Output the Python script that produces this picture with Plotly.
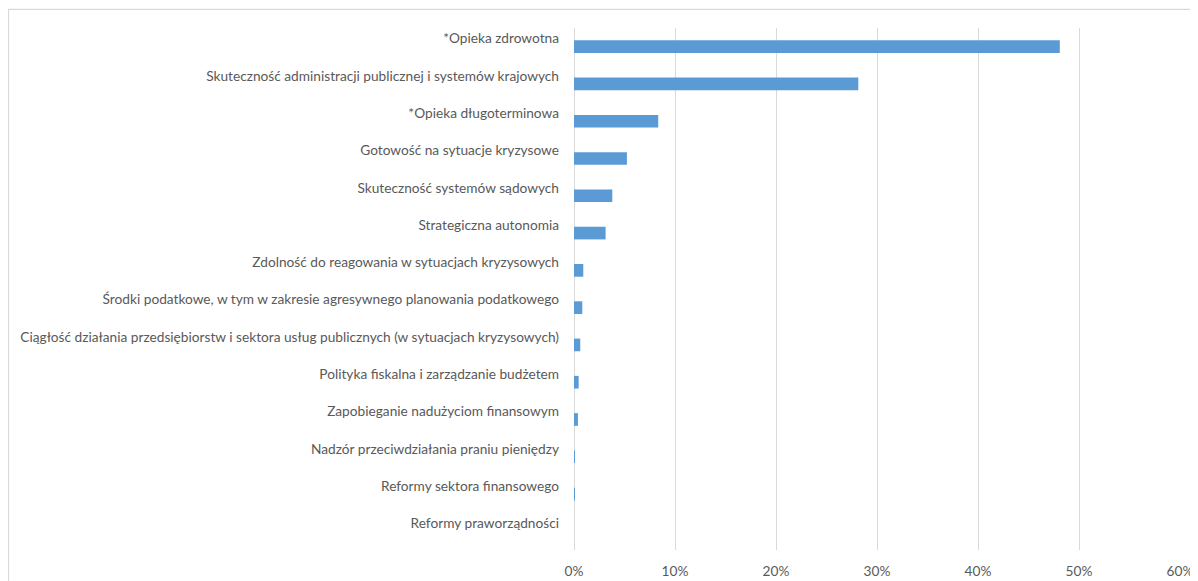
import plotly.graph_objects as go

categories = [
    "*Opieka zdrowotna",
    "Skuteczność administracji publicznej i systemów krajowych",
    "*Opieka długoterminowa",
    "Gotowość na sytuacje kryzysowe",
    "Skuteczność systemów sądowych",
    "Strategiczna autonomia",
    "Zdolność do reagowania w sytuacjach kryzysowych",
    "Środki podatkowe, w tym w zakresie agresywnego planowania podatkowego",
    "Ciągłość działania przedsiębiorstw i sektora usług publicznych (w sytuacjach kryzysowych)",
    "Polityka fiskalna i zarządzanie budżetem",
    "Zapobieganie nadużyciom finansowym",
    "Nadzór przeciwdziałania praniu pieniędzy",
    "Reformy sektora finansowego",
    "Reformy praworządności",
]
values = [0.481, 0.2815, 0.0834, 0.0524, 0.0379, 0.0313, 0.0092, 0.0082,
          0.0062, 0.0046, 0.0039, 0.0003, 0.0003, 0.0]
x_ticks = [0, 0.1, 0.2, 0.3, 0.4, 0.5, 0.6]
x_ticktext = ["0%", "10%", "20%", "30%", "40%", "50%", "60%"]

FONT = "Lato, 'Open Sans', sans-serif"
FS = 13.7
GRAY_TEXT = "#595959"
GRID = "#d9d9d9"

fig = go.Figure(go.Bar(
    x=values,
    y=categories,
    orientation="h",
    width=0.34,
    marker=dict(color="#5b9bd5", line=dict(width=0)),
    hoverinfo="x+y",
))

# page body has an 8px margin; figure placed at (8,8)
W, H = 1190, 573
ml, mr, mt, mb = 566, 18, 20, 31
PW, PH = W - ml - mr, H - mt - mb

fig.update_layout(
    width=W, height=H,
    margin=dict(l=ml, r=mr, t=mt, b=mb, pad=0, autoexpand=False),
    paper_bgcolor="white",
    plot_bgcolor="white",
    showlegend=False,
    font=dict(family=FONT, size=FS, color=GRAY_TEXT),
)

fig.update_xaxes(
    automargin=False,
    range=[0, 0.6],
    tickvals=x_ticks,
    ticktext=x_ticktext,
    showgrid=True,
    gridcolor=GRID,
    gridwidth=1.3,
    zeroline=True,
    zerolinecolor=GRID,
    zerolinewidth=1.3,
    showline=False,
    ticks="",
    ticklabelstandoff=11,
    tickfont=dict(family=FONT, size=FS, color=GRAY_TEXT),
    fixedrange=True,
)

fig.update_yaxes(
    automargin=False,
    type="category",
    categoryorder="array",
    categoryarray=categories,
    autorange="reversed",
    showgrid=False,
    zeroline=False,
    showline=False,
    ticks="",
    ticklabelstandoff=14,
    ticklabelshift=8,
    tickfont=dict(family=FONT, size=FS, color=GRAY_TEXT),
    fixedrange=True,
)

# chart outline (Excel chart-area border), left at 0.5px, top at 1.3px of figure
fig.add_shape(
    type="rect", xref="paper", yref="paper",
    x0=(0.5 - ml) / PW, x1=(W + 10 - ml) / PW,
    y0=-(mb + 10) / PH, y1=1 + (mt - 1.3) / PH,
    line=dict(color=GRID, width=1.2),
    fillcolor="rgba(0,0,0,0)",
    layer="below",
)

fig.write_html("out.html")
